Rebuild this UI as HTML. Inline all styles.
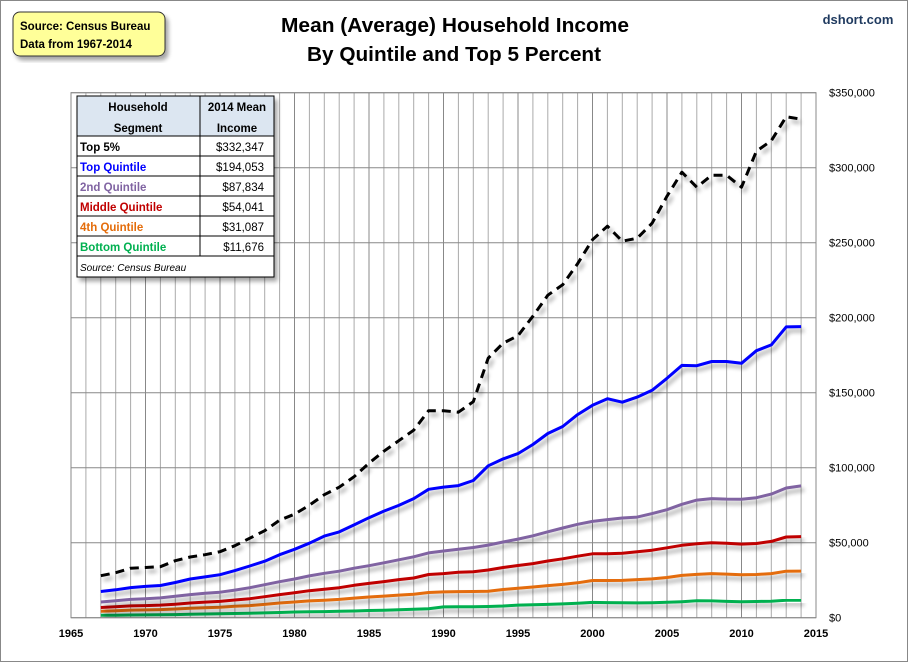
<!DOCTYPE html>
<html><head><meta charset="utf-8"><style>
html,body{margin:0;padding:0;background:#fff}
svg{display:block;font-family:"Liberation Sans",sans-serif}
</style></head><body>
<svg id="chart" width="908" height="662" viewBox="0 0 908 662">
<defs>
<filter id="sh" x="-5%" y="-5%" width="110%" height="120%">
<feGaussianBlur in="SourceAlpha" stdDeviation="2"/><feOffset dx="3" dy="4" result="b"/>
<feComponentTransfer><feFuncA type="linear" slope="0.35"/></feComponentTransfer>
<feMerge><feMergeNode/><feMergeNode in="SourceGraphic"/></feMerge></filter>
</defs>
<rect x="0.5" y="0.5" width="907" height="661" fill="#fff" stroke="#888"/>
<g id="grid"></g>
<g id="series"></g>
<rect x="71" y="92.7" width="745" height="525" fill="none" stroke="#888"/>
<g id="yticks" font-size="11" fill="#000"></g>
<g id="xticks" font-size="11" font-weight="bold" fill="#000"></g>
<text x="455" y="32" text-anchor="middle" font-size="20" font-weight="bold" textLength="348" lengthAdjust="spacingAndGlyphs">Mean (Average) Household Income</text>
<text x="454" y="61" text-anchor="middle" font-size="20" font-weight="bold" textLength="294" lengthAdjust="spacingAndGlyphs">By Quintile and Top 5 Percent</text>
<text x="858" y="24" text-anchor="middle" font-size="13" font-weight="bold" fill="#1f3a5f">dshort.com</text>
<g filter="url(#sh)">
<rect x="13" y="12" width="152" height="44" rx="7" fill="#ffff99" stroke="#333" stroke-width="1"/>
</g>
<text x="20" y="30" font-size="11.5" font-weight="bold">Source: Census Bureau</text>
<text x="20" y="48" font-size="11.5" font-weight="bold">Data from 1967-2014</text>
<g>
<rect x="77" y="96" width="197" height="181" fill="#fff" stroke="#000" filter="url(#sh)"/>
<rect x="77" y="96" width="197" height="40" fill="#dce6f1"/>
<g stroke="#000" stroke-width="1" fill="none">
<rect x="77" y="96" width="197" height="181"/>
<line x1="77" y1="136" x2="274" y2="136"/><line x1="77" y1="156" x2="274" y2="156"/>
<line x1="77" y1="176" x2="274" y2="176"/><line x1="77" y1="196" x2="274" y2="196"/>
<line x1="77" y1="216" x2="274" y2="216"/><line x1="77" y1="236" x2="274" y2="236"/>
<line x1="77" y1="256" x2="274" y2="256"/><line x1="200" y1="96" x2="200" y2="256"/>
</g>
<g font-size="11.5" font-weight="bold" text-anchor="middle">
<text x="138" y="111">Household</text><text x="138" y="132">Segment</text>
<text x="237" y="111">2014 Mean</text><text x="237" y="132">Income</text>
</g>
<g font-size="11.5" font-weight="bold">
<text x="80" y="151" fill="#000">Top 5%</text>
<text x="80" y="171" fill="#0000ff">Top Quintile</text>
<text x="80" y="191" fill="#8064a2">2nd Quintile</text>
<text x="80" y="211" fill="#c00000">Middle Quintile</text>
<text x="80" y="231" fill="#e46c0a">4th Quintile</text>
<text x="80" y="251" fill="#00b050">Bottom Quintile</text>
</g>
<g font-size="11.5" text-anchor="end">
<text x="264" y="151">$332,347</text><text x="264" y="171">$194,053</text>
<text x="264" y="191">$87,834</text><text x="264" y="211">$54,041</text>
<text x="264" y="231">$31,087</text><text x="264" y="251">$11,676</text>
</g>
<text x="80" y="271" font-size="10" font-style="italic">Source: Census Bureau</text>
</g>
</svg>
<script>
const years = [];
for (let y = 1967; y <= 2014; y++) years.push(y);
const top5 = [28000,30000,33000,33500,34000,38000,40500,42000,44000,48000,53000,58000,65000,69000,75000,82000,87000,94000,103000,111000,118000,125000,138000,138000,137000,144000,173000,183000,188000,201000,215000,222000,236000,252000,261000,251000,253000,263000,281000,297000,287000,295000,295000,287000,311000,318000,334000,332347];
const topQuintile = [17500,18600,20100,20900,21500,23500,25800,27200,28700,31400,34500,37700,42000,45600,49700,54400,57200,61900,66700,71100,74900,79400,85600,87100,88100,91500,101300,105900,109400,115500,122800,127500,135400,141600,146000,143700,147100,151600,159600,168200,168000,170800,170800,169600,178000,181900,193900,194053];
const secondQuintile = [10500,11300,12200,12600,13200,14300,15400,16300,17000,18400,20000,22000,24000,25800,27900,29600,31000,33000,34700,36600,38600,40600,43200,44500,45700,46800,48400,50500,52400,54600,57300,59800,62300,64200,65400,66500,67100,69400,72000,75600,78400,79400,79100,79000,80000,82400,86500,87834];
const middleQuintile = [6800,7300,7900,8100,8400,9000,9800,10400,10900,11800,12700,14000,15400,16600,18000,19000,20000,21600,22900,24100,25400,26500,28800,29400,30300,30700,31800,33500,34800,36100,37800,39300,41000,42600,42600,43000,44000,45000,46600,48300,49300,50000,49700,49100,49500,50900,53800,54041];
const fourthQuintile = [4300,4700,5100,5200,5400,5800,6300,6700,7000,7600,8100,8900,9800,10500,11200,11700,12200,13100,13800,14400,15100,15700,16800,17200,17400,17500,17700,18800,19600,20500,21400,22200,23300,24800,24800,24900,25400,25900,26800,28200,28900,29400,29100,28700,28800,29400,31000,31087];
const bottomQuintile = [1600,1700,1800,1900,2000,2100,2300,2500,2600,2800,3000,3200,3500,3800,4000,4100,4300,4500,4800,5000,5300,5600,6000,7200,7300,7300,7500,7800,8400,8600,8900,9200,9700,10200,10100,10000,9900,10000,10300,10700,11300,11200,10900,10700,10800,11000,11700,11676];
const yTickValues = [0,50000,100000,150000,200000,250000,300000,350000];
const yTickLabels = ["$0","$50,000","$100,000","$150,000","$200,000","$250,000","$300,000","$350,000"];
const xTickYears = [1965,1970,1975,1980,1985,1990,1995,2000,2005,2010,2015];

const NS = "http://www.w3.org/2000/svg";
const X0 = 71, X1 = 816, Y0 = 617.7, Y1 = 92.7;
const xScale = yr => X0 + (yr - 1965) / 50 * (X1 - X0);
const yScale = v => Y0 - v / 350000 * (Y0 - Y1);
function mk(tag, attrs, parent) {
  const e = document.createElementNS(NS, tag);
  for (const k in attrs) e.setAttribute(k, attrs[k]);
  parent.appendChild(e);
  return e;
}
const grid = document.getElementById("grid");
for (let yr = 1966; yr < 2015; yr++) {
  const l = mk("line", {x1: xScale(yr), x2: xScale(yr), y1: Y1, y2: Y0, stroke: yr % 5 === 0 ? "#888" : "#aaa", "stroke-width": 1}, grid);
  
  
}
const yt = document.getElementById("yticks");
yTickValues.forEach((v, i) => {
  const l = mk("line", {x1: X0, x2: X1, y1: yScale(v), y2: yScale(v), stroke: "#888", "stroke-width": 1}, grid);
  
  
  const t = mk("text", {x: 829, y: yScale(v) + 4}, yt);
  t.textContent = yTickLabels[i];
  
  
});
const xt = document.getElementById("xticks");
xTickYears.forEach(yr => {
  const t = mk("text", {x: xScale(yr), y: 637, "text-anchor": "middle"}, xt);
  t.textContent = yr;
  
  
});
const sg = document.getElementById("series");
const seriesList = [
  [bottomQuintile, "#00b050", "bottom-quintile-line", null],
  [fourthQuintile, "#e46c0a", "fourth-quintile-line", null],
  [middleQuintile, "#c00000", "middle-quintile-line", null],
  [secondQuintile, "#8064a2", "second-quintile-line", null],
  [topQuintile, "#0000ff", "top-quintile-line", null],
  [top5, "#000000", "top-5-percent-line", "9,6"]
];
seriesList.forEach(s => {
  const d = s[0].map((v, i) => (i ? "L" : "M") + xScale(years[i]).toFixed(1) + "," + yScale(v).toFixed(1)).join(" ");
  const p = mk("path", {d: d, fill: "none", stroke: s[1], "stroke-width": 3, "stroke-linejoin": "round", filter: "url(#sh)"}, sg);
  if (s[3]) p.setAttribute("stroke-dasharray", s[3]);
  
  
});
</script>
</body></html>
